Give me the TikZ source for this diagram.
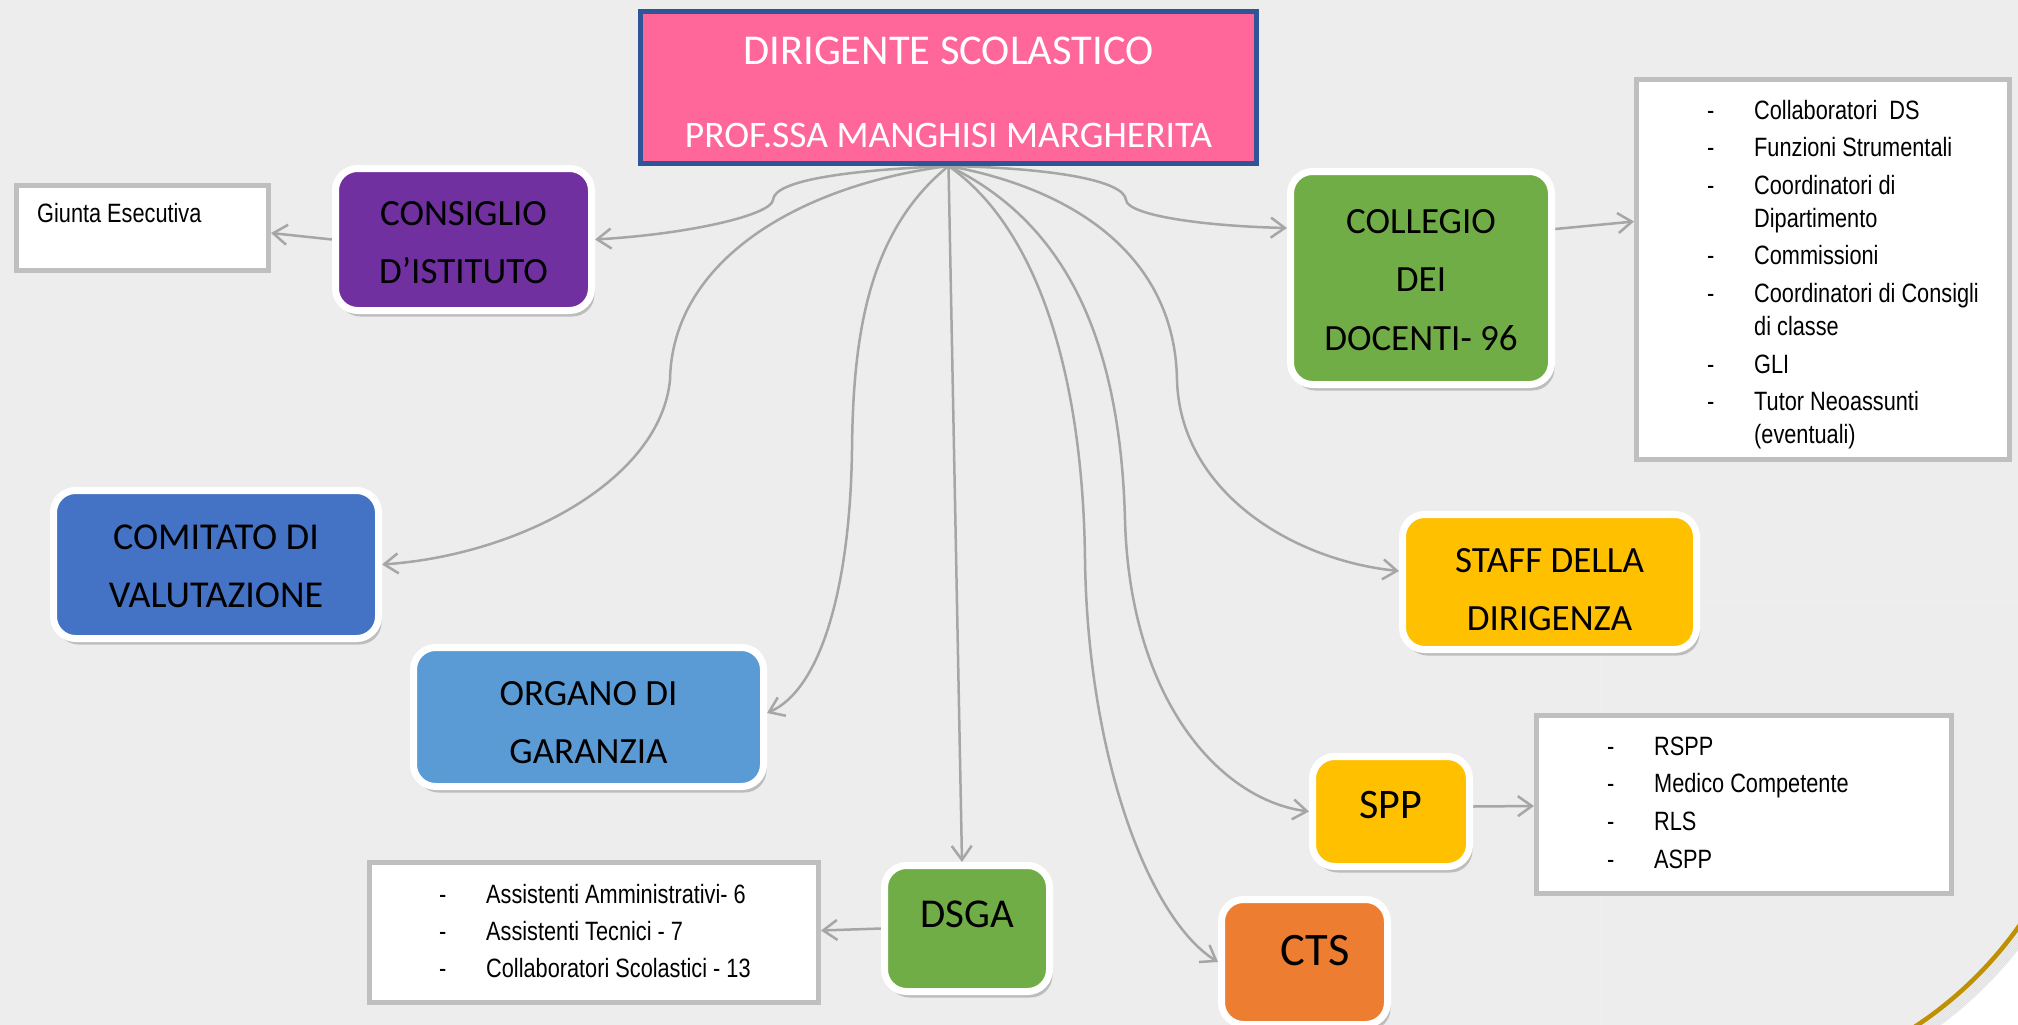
\documentclass[tikz,border=0pt]{standalone}
\usepackage{fontspec}
\setmainfont{Carlito}
\newfontfamily\listfont[FakeStretch=0.82]{Liberation Sans}
\usetikzlibrary{arrows.meta,shadows,calc}
\definecolor{bgc}{HTML}{EDEDED}
\definecolor{pinkc}{HTML}{FF6699}
\definecolor{dsblue}{HTML}{2F5597}
\definecolor{purplec}{HTML}{7030A0}
\definecolor{greenc}{HTML}{70AD47}
\definecolor{bluec}{HTML}{4472C4}
\definecolor{lbluec}{HTML}{5B9BD5}
\definecolor{yellowc}{HTML}{FFC000}
\definecolor{orangec}{HTML}{ED7D31}
\definecolor{bordgray}{HTML}{BFBFBF}
\definecolor{conncol}{HTML}{A6A6A6}
\definecolor{goldc}{HTML}{BF9000}
\newcommand\lidash{\makebox[47pt][l]{-}}
\newcommand\topstrut[1]{\rule{0pt}{#1}}
\pgfdeclarelayer{back}
\pgfdeclarelayer{lines}
\pgfsetlayers{back,lines,main}
\begin{document}
\begin{tikzpicture}[x=1pt,y=-1pt,
  orgbox/.style={draw=white, line width=7pt, rounded corners=22pt, inner sep=0pt, text=black,
     drop shadow={shadow xshift=3pt, shadow yshift=-6pt, fill=black!60, opacity=0.35}},
  multi/.style={align=center, font=\fontsize{37}{58}\selectfont},
  dsbox/.style={draw=dsblue, fill=pinkc, line width=5pt, inner sep=0pt, align=center, text=white,
     font=\fontsize{42.5}{83}\selectfont},
  listbox/.style={draw=bordgray, line width=5pt, fill=white, inner sep=0pt},
  listtext/.style={inner sep=0pt, font=\listfont\fontsize{26.5}{33}\selectfont, text=black},
  conn/.style={draw=conncol, line width=2.5pt, -{Straight Barb[length=14pt,width=20pt]}}
]
\useasboundingbox (0,0) rectangle (2018,1025);
\begin{pgfonlayer}{back}
\fill[bgc] (0,0) rectangle (2018,1025);
\begin{scope}
  \clip (1600,600) rectangle (2018,1025);
  \fill[white, even odd rule] (1600,600) rectangle (2300,1300) (1700,700) circle[radius=391];
  \foreach \i in {1,...,8}{
    \draw[black, opacity=0.07, line width=2pt] (1700,700) circle[radius=391+\i*1.6];
  }
  \draw[goldc, line width=4.5pt] (1700,700) circle[radius=391];
\end{scope}
\end{pgfonlayer}

% top node
\node[dsbox, minimum width=616pt, minimum height=152pt] (ds) at (948.5,87.5)
  {\topstrut{36.4pt}DIRIGENTE SCOLASTICO\\{\fontsize{37.5}{37.5}\selectfont PROF.SSA MANGHISI MARGHERITA}};

% coloured boxes
\node[orgbox, multi, fill=purplec, minimum width=256pt, minimum height=142pt] (consiglio) at (463.5,239.5)
  {\topstrut{30.5pt}CONSIGLIO\\D’ISTITUTO};
\node[orgbox, multi, fill=greenc, minimum width=261pt, minimum height=213pt, font=\fontsize{37}{58.5}\selectfont] (collegio) at (1421,278)
  {\topstrut{27.5pt}COLLEGIO\\DEI\\DOCENTI- 96};
\node[orgbox, multi, fill=bluec, minimum width=325pt, minimum height=148pt, font=\fontsize{38}{58}\selectfont] (comitato) at (216,564.5)
  {\topstrut{28pt}COMITATO DI\\VALUTAZIONE};
\node[orgbox, multi, fill=lbluec, minimum width=350pt, minimum height=139pt] (organo) at (588.5,717)
  {\topstrut{35.5pt}ORGANO DI\\GARANZIA};
\node[orgbox, multi, fill=yellowc, minimum width=294pt, minimum height=135pt] (staff) at (1549.5,582)
  {\topstrut{38.5pt}STAFF DELLA\\DIRIGENZA};
\node[orgbox, fill=yellowc, minimum width=157pt, minimum height=110pt, font=\fontsize{42}{42}\selectfont,
  text height=20pt, text depth=6pt] (spp) at (1391,811.5) {SPP};
\node[orgbox, fill=orangec, minimum width=166pt, minimum height=125pt, font=\fontsize{46.5}{46.5}\selectfont,
  text height=20pt, text depth=14pt] (cts) at (1304.5,962) {\hspace*{21pt}CTS};
\node[orgbox, fill=greenc, minimum width=165pt, minimum height=126pt, font=\fontsize{41}{41}\selectfont,
  text height=10pt, text depth=11.6pt] (dsga) at (967,928.5) {DSGA};

% list boxes
\node[listbox, minimum width=252pt, minimum height=85pt] (giunta) at (142.5,228) {};
\node[listtext, anchor=base west] (giuntaT) at (37,222) {Giunta Esecutiva};

\node[listbox, minimum width=373pt, minimum height=380pt] (clist) at (1823,269.5) {};
\node[listtext, anchor=base west] (clistT) at (1707,119) {%
  \begin{tabular}[t]{@{}l@{}l@{}}
  \lidash & Collaboratori~ DS\\[4.6pt]
  \lidash & Funzioni Strumentali\\[4.6pt]
  \lidash & Coordinatori di\\
          & Dipartimento\\[4.6pt]
  \lidash & Commissioni\\[4.6pt]
  \lidash & Coordinatori di Consigli\\
          & di classe\\[4.6pt]
  \lidash & GLI\\[4.6pt]
  \lidash & Tutor Neoassunti\\
          & (eventuali)
  \end{tabular}};

\node[listbox, minimum width=415pt, minimum height=178pt] (slist) at (1744,804.5) {};
\node[listtext, anchor=base west] (slistT) at (1607,755) {%
  \begin{tabular}[t]{@{}l@{}l@{}}
  \lidash & RSPP\\[4.7pt]
  \lidash & Medico Competente\\[4.7pt]
  \lidash & RLS\\[4.7pt]
  \lidash & ASPP
  \end{tabular}};

\node[listbox, minimum width=449pt, minimum height=140pt] (dlist) at (594,932.5) {};
\node[listtext, anchor=base west] (dlistT) at (439,903) {%
  \begin{tabular}[t]{@{}l@{}l@{}}
  \lidash & Assistenti Amministrativi- 6\\[4pt]
  \lidash & Assistenti Tecnici - 7\\[4pt]
  \lidash & Collaboratori Scolastici - 13
  \end{tabular}};

% connectors
\begin{pgfonlayer}{lines}
\draw[conn] (ds.south) .. controls (850,170) and (774,180) .. (773,200)
   .. controls (771,215) and (690,234) .. (consiglio.east);
\draw[conn] (ds.south) .. controls (1050,168) and (1124,180) .. (1126,200)
   .. controls (1128,215) and (1200,226) .. ($(collegio.west)+(0,-50)$);
\draw[conn] (ds.south) .. controls (800,185) and (672,260) .. (670,380)
   .. controls (660,480) and (520,555) .. (comitato.east);
\draw[conn] (ds.south) .. controls (870,230) and (853,330) .. (852,450)
   .. controls (850,590) and (820,690) .. ($(organo.east)+(0,-4)$);
\draw[conn] (ds.south) -- ($(dsga.north)+(-5,0)$);
\draw[conn] (ds.south) .. controls (1040,230) and (1083,380) .. (1085,560)
   .. controls (1088,760) and (1150,920) .. (cts.west);
\draw[conn] (ds.south) .. controls (1060,220) and (1120,330) .. (1125,520)
   .. controls (1130,700) and (1220,800) .. (spp.west);
\draw[conn] (ds.south) .. controls (1080,190) and (1175,260) .. (1177,380)
   .. controls (1180,490) and (1290,560) .. ($(staff.west)+(0,-11)$);
\draw[conn] (consiglio.west) -- ($(giunta.east)+(0,5)$);
\draw[conn] ($(collegio.east)+(0,-49)$) -- ($(clist.west)+(0,-48)$);
\draw[conn] ($(spp.east)+(0,-5)$) -- ($(slist.west)+(0,1.5)$);
\draw[conn] (dsga.west) -- ($(dlist.east)+(0,-2)$);
\end{pgfonlayer}
\end{tikzpicture}
\end{document}
